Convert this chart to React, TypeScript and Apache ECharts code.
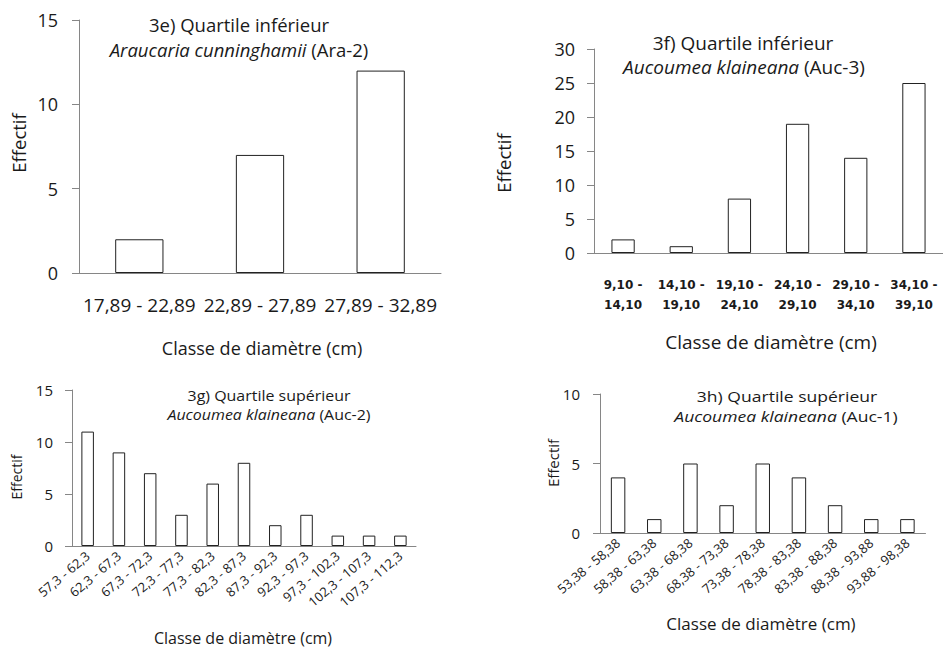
import React, { useEffect, useRef } from "react";
import * as echarts from "echarts";

// 3e
const catE = ["17,89 - 22,89", "22,89 - 27,89", "27,89 - 32,89"];
const valE = [2, 7, 12];
// 3f
const catF = ["9,10 -\n14,10", "14,10 -\n19,10", "19,10 -\n24,10", "24,10 -\n29,10", "29,10 -\n34,10", "34,10 -\n39,10"];
const valF = [2, 1, 8, 19, 14, 25];
// 3g
const catG = ["57,3 - 62,3", "62,3 - 67,3", "67,3 - 72,3", "72,3 - 77,3", "77,3 - 82,3", "82,3 - 87,3", "87,3 - 92,3", "92,3 - 97,3", "97,3 - 102,3", "102,3 - 107,3", "107,3 - 112,3"];
const valG = [11, 9, 7, 3, 6, 8, 2, 3, 1, 1, 1];
// 3h
const catH = ["53,38 - 58,38", "58,38 - 63,38", "63,38 - 68,38", "68,38 - 73,38", "73,38 - 78,38", "78,38 - 83,38", "83,38 - 88,38", "88,38 - 93,88", "93,88 - 98,38"];
const valH = [4, 1, 5, 2, 5, 4, 2, 1, 1];

const yMaxE = 15, yMaxF = 30, yMaxG = 15, yMaxH = 10;
const yStep = 5;

const FONT = "'Open Sans', sans-serif";
const TXT = "#1a1a1a";
const AX = "#868686";

function txt(x: number, y: number, text: string, size: number, rotate = 0, sx = 1) {
  return {
    type: "text",
    x,
    y,
    rotation: rotate,
    scaleX: sx,
    style: {
      text,
      fill: TXT,
      font: `${size}px ${FONT}`,
      align: "center",
      verticalAlign: "middle",
    },
  };
}

function title2(x: number, y: number, italic: string, plain: string, size: number, sx = 1) {
  return {
    type: "text",
    x,
    y,
    scaleX: sx,
    style: {
      text: `{i|${italic}} {n|${plain}}`,
      fill: TXT,
      font: `${size}px ${FONT}`,
      align: "center",
      verticalAlign: "middle",
      rich: {
        i: { fontStyle: "italic", fontSize: size, fontFamily: FONT, fill: TXT, lineHeight: size + 1 },
        n: { fontSize: size, fontFamily: FONT, fill: TXT, lineHeight: size + 1 },
      },
    },
  };
}

export default function App() {
  const ref = useRef<HTMLDivElement>(null);
  useEffect(() => {
    if (!ref.current) return;
    const chart = echarts.init(ref.current, undefined, { renderer: "svg" });

    const grids = [
      { left: 79, top: 20, width: 362, height: 253 },
      { left: 594, top: 49, width: 354, height: 204 },
      { left: 72, top: 390, width: 344, height: 156 },
      { left: 600, top: 394, width: 325.5, height: 139 },
    ];

    const xLab = [
      { fontSize: 19, fontFamily: FONT, color: TXT, margin: 22 },
      { fontSize: 12, fontFamily: "'DejaVu Sans', sans-serif", fontWeight: "bold", color: TXT, margin: 22, lineHeight: 20 },
      { fontSize: 13, fontFamily: FONT, color: TXT, margin: 8, rotate: 40 },
      { fontSize: 13, fontFamily: FONT, color: TXT, margin: 8, rotate: 40 },
    ];
    const cats = [catE, catF, catG, catH];
    const vals = [valE, valF, valG, valH];
    const maxes = [yMaxE, yMaxF, yMaxG, yMaxH];
    const ySizes = [18, 18, 15, 15];
    const yMargins = [21, 19, 19, 20];

    const option: any = {
      animation: false,
      grid: grids.map((g) => ({ ...g, containLabel: false })),
      xAxis: cats.map((c, i) => ({
        type: "category",
        gridIndex: i,
        data: c,
        axisLine: { lineStyle: { color: AX, width: 1 } },
        axisTick: { lineStyle: { color: AX }, length: 6 },
        axisLabel: { ...xLab[i], interval: 0 },
      })),
      yAxis: maxes.map((m, i) => ({
        type: "value",
        gridIndex: i,
        min: 0,
        max: m,
        interval: yStep,
        splitLine: { show: false },
        axisLine: { show: true, lineStyle: { color: AX, width: 1 } },
        axisTick: { show: true, lineStyle: { color: AX }, length: 7 },
        axisLabel: { fontSize: ySizes[i], fontFamily: FONT, color: TXT, margin: yMargins[i] },
      })),
      series: vals.map((v, i) => ({
        type: "bar",
        xAxisIndex: i,
        yAxisIndex: i,
        data: v,
        barWidth: "40%",
        itemStyle: { color: "#ffffff", borderColor: "#222222", borderWidth: 1 },
      })),
      graphic: [
        txt(239, 24, "3e) Quartile inférieur", 18.5),
        title2(239, 49, "Araucaria cunninghamii", "(Ara-2)", 18.5),
        txt(743, 43, "3f) Quartile inférieur", 19),
        title2(744, 67, "Aucoumea klaineana", "(Auc-3)", 19),
        txt(269, 395, "3g) Quartile supérieur", 14, 0, 1.14),
        title2(269, 414, "Aucoumea klaineana", "(Auc-2)", 14, 1.14),
        txt(787, 396, "3h) Quartile supérieur", 15, 0, 1.17),
        title2(786, 416, "Aucoumea klaineana", "(Auc-1)", 15, 1.17),
        txt(18, 143, "Effectif", 18.5, Math.PI / 2),
        txt(503, 163, "Effectif", 18.5, Math.PI / 2),
        txt(16, 477, "Effectif", 14, Math.PI / 2),
        txt(553, 463, "Effectif", 15, Math.PI / 2),
        txt(262, 348, "Classe de diamètre (cm)", 18),
        txt(771, 342, "Classe de diamètre (cm)", 19),
        txt(243, 638, "Classe de diamètre (cm)", 16),
        txt(761, 623, "Classe de diamètre (cm)", 17),
      ],
    };
    chart.setOption(option);
    return () => chart.dispose();
  }, []);
  return (
    <div
      ref={ref}
      style={{ position: "fixed", left: 0, top: 0, width: 943, height: 649, background: "#fff" }}
    />
  );
}
